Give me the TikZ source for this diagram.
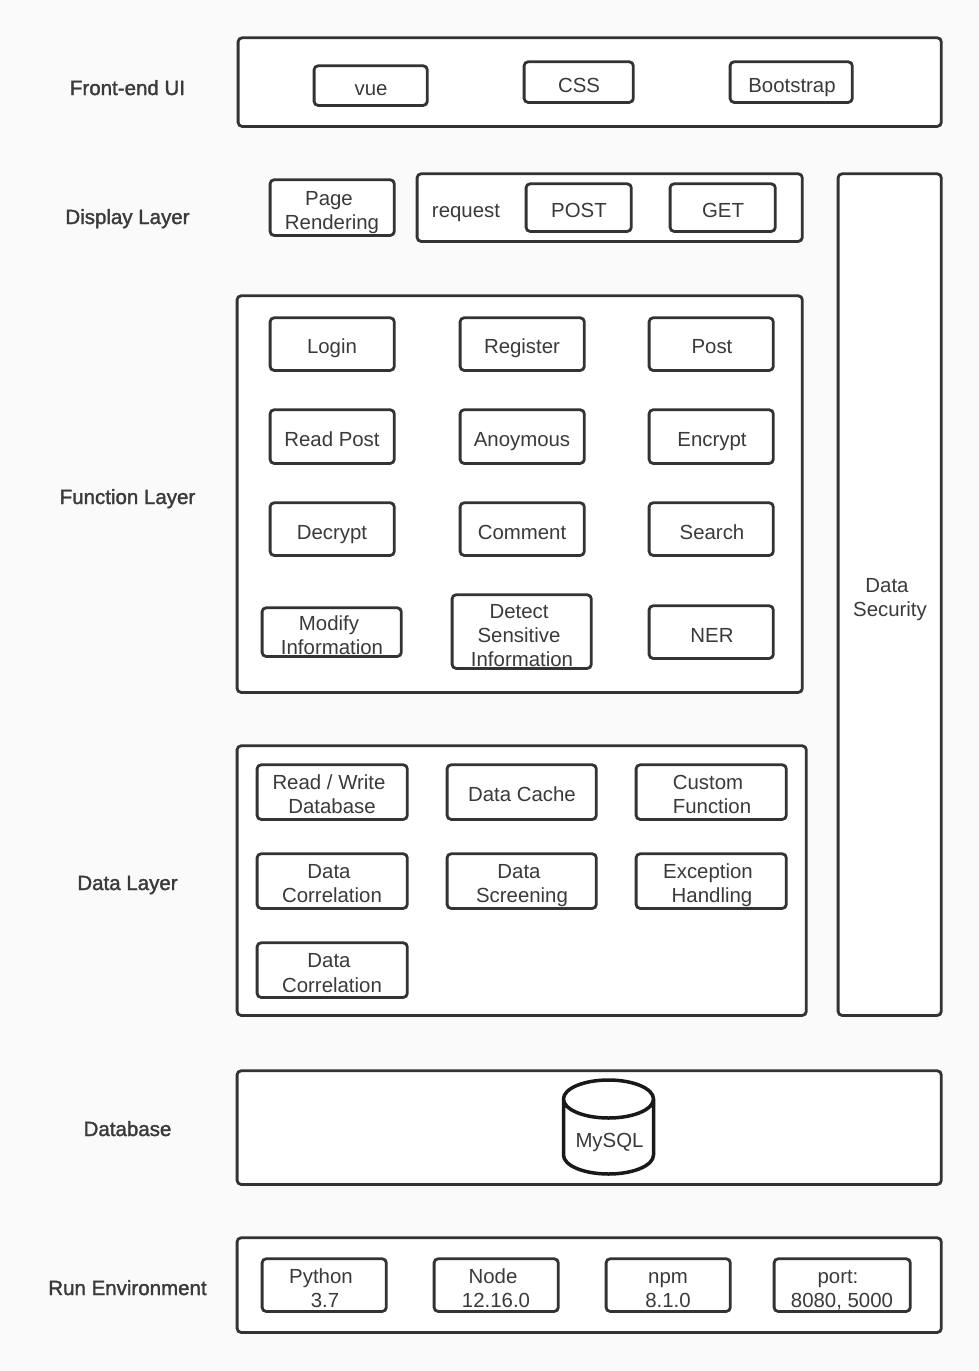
\documentclass[tikz,border=0pt]{standalone}
\usepackage{fontspec}
\setmainfont{Liberation Sans}
\newfontfamily\semib[FakeBold=1.6]{Liberation Sans}
\definecolor{bgc}{HTML}{FAFAFA}
\definecolor{ln}{HTML}{333333}
\definecolor{tc}{HTML}{3A3A3A}
\tikzset{
  x=1pt,y=-1pt,
  panel/.style={draw=ln,fill=white,line width=2.8pt,rounded corners=4pt},
  txt/.style={anchor=base,inner sep=0pt,text=tc,font=\fontsize{20.4}{24}\selectfont},
  lay/.style={anchor=base,inner sep=0pt,text=tc,font=\fontsize{20.5}{24}\selectfont\semib},
}
\newcommand{\bx}[5]{\path[panel] ({#2+.1},{#3-.2}) rectangle ({#4-.7},{#5-.6}) coordinate (#1);}
\newcommand{\tx}[4]{\node[txt] (#1) at (#2,#3) {#4};}
\newcommand{\lb}[4]{\node[lay] (#1) at (#2,#3) {#4};}
\begin{document}
\begin{tikzpicture}
\useasboundingbox[fill=bgc] (0,0) rectangle (979,1371);
% layer labels
\lb{l1}{127.5}{95}{Front-end UI}
\lb{l2}{127.5}{224}{Display Layer}
\lb{l3}{127.5}{504}{Function Layer}
\lb{l4}{127.5}{890}{Data Layer}
\lb{l5}{127.5}{1136}{Database}
\lb{l6}{127.5}{1295}{Run Environment}
% panels
\bx{front}{238}{38}{942}{127}
\bx{req}{417}{174}{803}{242}
\bx{sec}{838}{174}{942}{1016}
\bx{func}{237}{296}{803}{693}
\bx{data}{237}{746}{807}{1016}
\bx{dbase}{237}{1071}{942}{1185}
\bx{run}{237}{1238}{942}{1333}
% front-end
\bx{bvue}{314}{66}{428}{106} \tx{tvue}{371}{95}{vue}
\bx{bcss}{524}{62}{634}{103} \tx{tcss}{579}{92}{CSS}
\bx{bboot}{730}{62}{853}{103} \tx{tboot}{792}{92}{Bootstrap}
% display
\bx{bpage}{270}{180}{395}{236} \tx{tpa}{329}{205}{Page} \tx{tpb}{332}{229}{Rendering}
\tx{treq}{466}{217}{request}
\bx{bpost}{526}{184}{632}{232} \tx{tpost}{579}{217}{POST}
\bx{bget}{670}{184}{776}{232} \tx{tget}{723}{217}{GET}
% function
\bx{f1}{270}{318}{395}{371} \tx{tf1}{332}{353}{Login}
\bx{f2}{460}{318}{585}{371} \tx{tf2}{522}{353}{Register}
\bx{f3}{649}{318}{774}{371} \tx{tf3}{712}{353}{Post}
\bx{f4}{270}{410}{395}{464} \tx{tf4}{332}{446}{Read Post}
\bx{f5}{460}{410}{585}{464} \tx{tf5}{522}{446}{Anoymous}
\bx{f6}{649}{410}{774}{464} \tx{tf6}{712}{446}{Encrypt}
\bx{f7}{270}{503}{395}{556} \tx{tf7}{332}{539}{Decrypt}
\bx{f8}{460}{503}{585}{556} \tx{tf8}{522}{539}{Comment}
\bx{f9}{649}{503}{774}{556} \tx{tf9}{712}{539}{Search}
\bx{f10}{262}{608}{402}{657} \tx{tf10a}{329}{630}{Modify} \tx{tf10b}{332}{654}{Information}
\bx{f11}{452}{595}{592}{669} \tx{tf11a}{519}{618}{Detect} \tx{tf11b}{519}{642}{Sensitive} \tx{tf11c}{522}{666}{Information}
\bx{f12}{649}{606}{774}{659} \tx{tf12}{712}{642}{NER}
% data
\bx{d1}{257}{765}{408}{820} \tx{td1a}{329}{789}{Read / Write} \tx{td1b}{332}{813}{Database}
\bx{d2}{447}{765}{597}{820} \tx{td2}{522}{801}{Data Cache}
\bx{d3}{636}{765}{787}{820} \tx{td3a}{708}{789}{Custom} \tx{td3b}{712}{813}{Function}
\bx{d4}{257}{854}{408}{909} \tx{td4a}{329}{878}{Data} \tx{td4b}{332}{902}{Correlation}
\bx{d5}{447}{854}{597}{909} \tx{td5a}{519}{878}{Data} \tx{td5b}{522}{902}{Screening}
\bx{d6}{636}{854}{787}{909} \tx{td6a}{708}{878}{Exception} \tx{td6b}{712}{902}{Handling}
\bx{d7}{257}{943}{408}{998} \tx{td7a}{329}{967}{Data} \tx{td7b}{332}{992}{Correlation}
% security
\tx{tsa}{887}{592}{Data} \tx{tsb}{890}{616}{Security}
% database
\draw[draw=black!90,fill=white,line width=3.5pt,line join=round] (563.5,1099) -- (563.5,1155) arc[start angle=180,end angle=360,x radius=45,y radius=-19] -- (653.5,1099) arc[start angle=0,end angle=-180,x radius=45,y radius=19] arc[start angle=180,end angle=360,x radius=45,y radius=-19];
\tx{tdb}{609.5}{1147}{MySQL}
% run
\bx{r1}{262}{1259}{387}{1312} \tx{tr1a}{321}{1283}{Python} \tx{tr1b}{325}{1307}{3.7}
\bx{r2}{434}{1259}{559}{1312} \tx{tr2a}{493}{1283}{Node} \tx{tr2b}{496}{1307}{12.16.0}
\bx{r3}{606}{1259}{731}{1312} \tx{tr3a}{668}{1283}{npm} \tx{tr3b}{668}{1307}{8.1.0}
\bx{r4}{774}{1259}{911}{1312} \tx{tr4a}{838}{1283}{port:} \tx{tr4b}{842}{1307}{8080, 5000}
\end{tikzpicture}
\end{document}
